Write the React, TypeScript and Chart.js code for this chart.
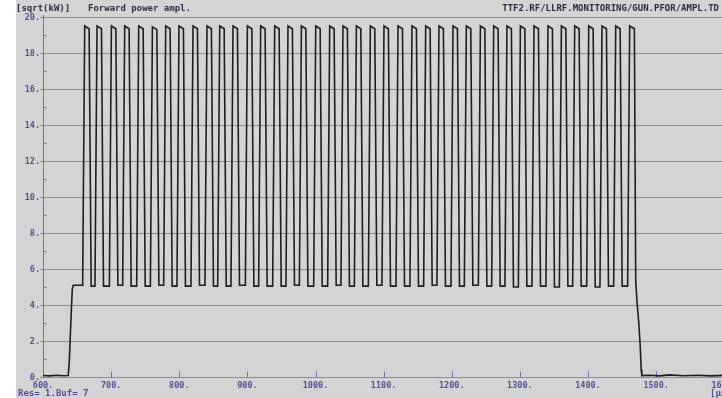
import React, { useEffect, useRef } from "react";
import { Chart, registerables } from "chart.js";

Chart.register(...registerables);

// ---- data ----
const xTickValues = [600, 700, 800, 900, 1000, 1100, 1200, 1300, 1400, 1500, 1600];
const yTickValues = [0, 2, 4, 6, 8, 10, 12, 14, 16, 18, 20];
const yMinorTickValues = [1, 3, 5, 7, 9, 11, 13, 15, 17, 19];

// leading part: baseline then step up to the ~5 plateau
const leadTimes = [600, 610, 620, 630, 637, 638.5, 640, 641.5, 643, 644.5];
const leadValues = [0.08, 0.06, 0.1, 0.07, 0.08, 0.8, 2.2, 3.6, 4.9, 5.1];

// time (us) of the top-left corner of every pulse
const pulseTopTimes = [
  661.2, 679.3, 700.4, 719.9, 740.5, 760.6, 780.1, 799.6, 820.2, 840.7,
  859.4, 878.9, 900.0, 919.5, 940.1, 959.6, 979.3, 1000.3, 1020.8, 1040.3,
  1060.0, 1080.5, 1100.5, 1121.1, 1141.6, 1161.7, 1181.2, 1201.8, 1221.4, 1242.0,
  1261.5, 1281.0, 1300.7, 1320.7, 1341.2, 1360.9, 1380.4, 1401.0, 1420.5, 1440.6,
  1461.1,
];
// peak level of every pulse
const pulseHighs = [
  19.5, 19.5, 19.5, 19.5, 19.5, 19.45, 19.5, 19.5, 19.5, 19.5,
  19.5, 19.5, 19.5, 19.5, 19.5, 19.5, 19.5, 19.5, 19.5, 19.5,
  19.5, 19.5, 19.5, 19.5, 19.5, 19.5, 19.5, 19.5, 19.5, 19.5,
  19.5, 19.5, 19.5, 19.5, 19.5, 19.5, 19.5, 19.5, 19.5, 19.5,
  19.5,
];
// trough level just before every pulse
const pulseLows = [
  5.1, 5.05, 5.05, 5.1, 5.05, 5.05, 5.1, 5.05, 5.05, 5.1,
  5.05, 5.05, 5.1, 5.05, 5.05, 5.05, 5.1, 5.05, 5.05, 5.1,
  5.05, 5.05, 5.1, 5.05, 5.05, 5.05, 5.1, 5.05, 5.05, 5.1,
  5.05, 5.05, 5.0, 5.05, 5.05, 5.0, 5.05, 5.05, 5.0, 5.05,
  5.05,
];
// pulse edge timing (us)
const riseUs = 3;
const topUs = 6.5;
const fallUs = 3;
const topDroop = 0.15;

// trailing part: last fall and the baseline
const tailTimes = [1468, 1470, 1472, 1474.5, 1476.5, 1478, 1479, 1490, 1505, 1520, 1540, 1560, 1580, 1600];
const tailValues = [19.35, 5.3, 4.1, 3.0, 1.8, 0.4, 0.08, 0.1, 0.06, 0.12, 0.07, 0.1, 0.06, 0.09];

const titleUnit = "[sqrt(kW)]";
const titleName = "Forward power ampl.";
const titleChannel = "TTF2.RF/LLRF.MONITORING/GUN.PFOR/AMPL.TD";
const footerText = "Res= 1.Buf= 7";
const xUnitText = "[µs]";

function buildPoints() {
  const pts: { x: number; y: number }[] = [];
  leadTimes.forEach((t, i) => pts.push({ x: t, y: leadValues[i] }));
  pulseTopTimes.forEach((r, i) => {
    pts.push({ x: r - riseUs, y: pulseLows[i] });
    pts.push({ x: r, y: pulseHighs[i] });
    if (i < pulseTopTimes.length - 1) {
      pts.push({ x: r + topUs, y: pulseHighs[i] - topDroop });
      pts.push({ x: r + topUs + fallUs, y: pulseLows[i + 1] });
    }
  });
  tailTimes.forEach((t, i) => pts.push({ x: t, y: tailValues[i] }));
  return pts;
}

const CANVAS_W = 760;
const CANVAS_H = 398;

const GRID = "rgb(132,132,200)";
const AXIS = "rgb(112,112,188)";
const LABEL = "rgb(80,80,158)";
const TITLE = "rgb(44,44,60)";
const BG = "rgb(212,212,212)";
const TICK_FONT = "bold 8.5px 'DejaVu Sans Mono'";
const TITLE_FONT = "bold 9px 'DejaVu Sans Mono'";

const scopePlugin = {
  id: "scopeFrame",
  beforeDraw(chart: any) {
    const ctx = chart.ctx;
    ctx.save();
    ctx.fillStyle = BG;
    ctx.fillRect(16, 0, chart.width - 16, chart.height);
    ctx.restore();
  },
  beforeDatasetsDraw(chart: any) {
    const ctx = chart.ctx;
    const xs = chart.scales.x;
    const ys = chart.scales.y;
    const area = chart.chartArea;
    ctx.save();
    ctx.lineWidth = 1;
    // horizontal grid lines
    ctx.strokeStyle = GRID;
    yTickValues.forEach((v) => {
      const y = Math.round(ys.getPixelForValue(v)) + 0.5;
      ctx.beginPath();
      ctx.moveTo(Math.round(area.left) - 3, y);
      ctx.lineTo(chart.width, y);
      ctx.stroke();
    });
    // y axis
    const ax = Math.round(area.left) + 0.5;
    ctx.strokeStyle = AXIS;
    ctx.beginPath();
    ctx.moveTo(ax, Math.round(area.top) - 2);
    ctx.lineTo(ax, Math.round(area.bottom) + 1);
    ctx.stroke();
    // minor y ticks
    yMinorTickValues.forEach((v) => {
      const y = Math.round(ys.getPixelForValue(v)) + 0.5;
      ctx.beginPath();
      ctx.moveTo(ax, y);
      ctx.lineTo(ax + 3, y);
      ctx.stroke();
    });
    // major x ticks
    const by = Math.round(area.bottom) + 0.5;
    xTickValues.forEach((v) => {
      const x = Math.round(xs.getPixelForValue(v)) + 0.5;
      ctx.beginPath();
      ctx.moveTo(x, by);
      ctx.lineTo(x, by - 6);
      ctx.stroke();
    });
    ctx.restore();
  },
  afterDraw(chart: any) {
    const ctx = chart.ctx;
    const xs = chart.scales.x;
    const ys = chart.scales.y;
    const area = chart.chartArea;
    ctx.save();
    ctx.fillStyle = LABEL;
    ctx.font = TICK_FONT;
    ctx.textBaseline = "middle";
    ctx.textAlign = "right";
    yTickValues.forEach((v) => {
      ctx.fillText(v + ".", area.left - 3, ys.getPixelForValue(v) + 1);
    });
    ctx.textAlign = "center";
    xTickValues.forEach((v) => {
      ctx.fillText(v + ".", xs.getPixelForValue(v), area.bottom + 9);
    });
    ctx.font = TITLE_FONT;
    ctx.textAlign = "left";
    ctx.fillText(footerText, 18, area.bottom + 17);
    ctx.fillText(xUnitText, 710, area.bottom + 17);
    ctx.fillStyle = TITLE;
    ctx.fillText(titleUnit, 16, 9);
    ctx.fillText(titleName, 88, 9);
    ctx.textAlign = "right";
    ctx.fillText(titleChannel, 719, 9);
    ctx.restore();
  },
};

export default function App() {
  const canvasRef = useRef<HTMLCanvasElement | null>(null);

  useEffect(() => {
    const canvas = canvasRef.current;
    if (!canvas) return;
    const chart = new Chart(canvas, {
      type: "line",
      data: {
        datasets: [
          {
            data: buildPoints(),
            borderColor: "rgb(30,30,30)",
            borderWidth: 1.6,
            pointRadius: 0,
            tension: 0,
            fill: false,
          },
        ],
      },
      options: {
        animation: false,
        responsive: false,
        maintainAspectRatio: false,
        devicePixelRatio: 1,
        layout: { padding: { left: 43, top: 17, right: CANVAS_W - 724.3, bottom: CANVAS_H - 377 } },
        scales: {
          x: { type: "linear", min: 600, max: 1600, display: false },
          y: { type: "linear", min: 0, max: 20, display: false },
        },
        plugins: {
          legend: { display: false },
          tooltip: { enabled: false },
          title: { display: false },
        },
        events: [],
      },
      plugins: [scopePlugin],
    });
    return () => chart.destroy();
  }, []);

  return (
    <div
      style={{
        position: "fixed",
        left: 0,
        top: 0,
        width: 722,
        height: 398,
        overflow: "hidden",
        background: "#fff",
      }}
    >
      <canvas ref={canvasRef} width={CANVAS_W} height={CANVAS_H} style={{ display: "block" }} />
    </div>
  );
}
